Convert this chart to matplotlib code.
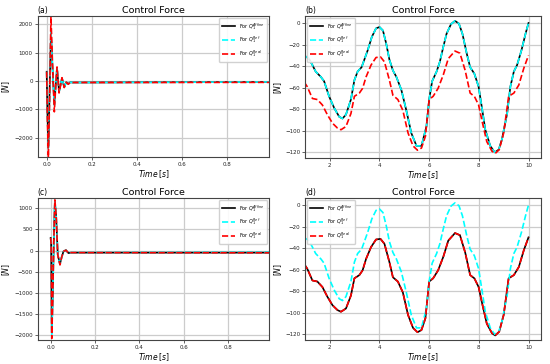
import numpy as np
import matplotlib
matplotlib.use('Agg')
import matplotlib.pyplot as plt

# --- transient data, panels (a) and (c) ---
t_a = [0.0, 0.003, 0.0075, 0.013, 0.019, 0.026, 0.034, 0.040, 0.046, 0.055,
       0.068, 0.078, 0.087, 0.096, 0.105, 0.115, 0.99]
a_affine = [330, -1000, -2350, -400, 1700, 450, -820, -150, 460, -380,
            100, -210, -40, -100, -40, -50, -30]
a_ref = [330, -1000, -2400, -400, 1750, 450, -850, -150, 470, -380,
         100, -210, -40, -100, -40, -50, -30]
a_real = [330, -1300, -2700, -600, 2280, 600, -1085, -200, 500, -420,
          120, -230, -40, -110, -40, -50, -45]

t_c = [0.0, 0.002, 0.005, 0.009, 0.014, 0.019, 0.025, 0.032, 0.042, 0.050,
       0.058, 0.069, 0.080, 0.092, 0.99]
c_affine = [300, 150, -1950, -1150, 200, 1180, 780, -100, -320, -150,
            -20, 10, -60, -50, -50]
c_ref = [300, 150, -2000, -1150, 200, 1190, 790, -100, -330, -150,
         -20, 10, -60, -50, -35]
c_real = [300, 150, -2080, -1200, 200, 1200, 800, -100, -340, -150,
          -20, 10, -60, -50, -50]

# --- steady data, panels (b) and (d) ---
t_ref = [0.96, 1.16, 1.3, 1.43, 1.64, 1.77, 1.97, 2.18, 2.38, 2.51, 2.65, 2.85, 2.99,
         3.12, 3.28, 3.39, 3.53, 3.69, 3.86, 4.0, 4.14, 4.27, 4.4, 4.54, 4.68, 4.88,
         5.08, 5.28, 5.49, 5.69, 5.89, 6.0, 6.12, 6.3, 6.43, 6.57, 6.7, 6.88, 7.04,
         7.2, 7.34, 7.51, 7.65, 7.82, 7.99, 8.12, 8.26, 8.46, 8.64, 8.8, 8.93, 9.14,
         9.27, 9.41, 9.54, 9.72, 9.88, 10.0]
q_ref = [-30, -33, -39, -45, -50, -54, -68, -79, -87, -88.6, -85, -71, -53,
         -45, -41, -34, -25, -13, -5, -3.7, -7, -19, -34, -44, -50, -62,
         -81, -102, -114, -114, -96, -71, -54, -45, -36, -22, -10, -1, 2,
         -0.6, -10, -28, -41, -47, -59, -78, -99, -114, -120, -117.5, -108, -84,
         -59, -45, -39, -25, -10, 0]

t_real = [0.96, 1.09, 1.3, 1.5, 1.7, 1.9, 2.11, 2.31, 2.45, 2.65, 2.85, 2.99, 3.19,
          3.32, 3.46, 3.66, 3.86, 4.04, 4.2, 4.4, 4.54, 4.74, 4.94, 5.15, 5.35, 5.53,
          5.69, 5.85, 6.0, 6.16, 6.36, 6.57, 6.77, 7.04, 7.24, 7.45, 7.65, 7.82, 7.99,
          8.15, 8.32, 8.53, 8.66, 8.82, 9.0, 9.2, 9.41, 9.61, 9.81, 10.0]
q_real = [-54.5, -59, -70, -71, -76, -85, -93, -97.5, -99, -96, -84, -68, -65,
          -60.6, -50, -39, -32, -31.4, -36, -53, -67, -71, -81, -102, -114, -118,
          -116, -105, -71, -68, -60.6, -48, -33, -26, -28, -44, -65, -68, -76,
          -93, -110, -119, -121, -117.5, -102, -68, -65, -57.5, -42, -30]

labels = [r'For $Q_1^{Affine}$', r'For $Q_1^{Ref}$', r'For $Q_1^{Real}$']

fig = plt.figure(figsize=(5.5, 3.64), dpi=100)
pos = {'a': [0.0685, 0.569, 0.421, 0.387],
       'b': [0.5545, 0.566, 0.429, 0.390],
       'c': [0.0685, 0.066, 0.421, 0.390],
       'd': [0.5545, 0.066, 0.429, 0.390]}
LW = 1.2


def style(ax, tag, loc, ylab_x):
    ax.set_title('Control Force', fontsize=6.8, pad=2.5)
    ax.set_title('(' + tag + ')', loc='left', fontsize=5.5, pad=2.5)
    ax.set_xlabel(r'$Time\,[s]$', fontsize=5.5, labelpad=1)
    ax.set_ylabel(r'$[N]$', fontsize=5.5)
    ax.yaxis.set_label_coords(ylab_x, 0.5)
    ax.tick_params(labelsize=4, length=2, width=0.5, pad=1.5, colors='#222222')
    ax.grid(True, color='#cccccc', linewidth=0.9)
    for s in ax.spines.values():
        s.set_linewidth(0.8)
        s.set_color('#444444')
    ax.legend(loc=loc, fontsize=3.5, handlelength=2.8, borderpad=0.5,
              labelspacing=0.6, framealpha=0.9, edgecolor='#cccccc')


# (a)
ax = fig.add_axes(pos['a'])
ax.plot(t_a, a_affine, color='black', lw=LW, label=labels[0])
ax.plot(t_a, a_ref, color='cyan', lw=LW, ls='--', label=labels[1])
ax.plot(t_a, a_real, color='red', lw=LW, ls='--', label=labels[2])
ax.set_xlim(-0.04, 0.989)
ax.set_ylim(-2675, 2297)
ax.set_yticks([-2000, -1000, 0, 1000, 2000])
ax.set_xticks([0.0, 0.2, 0.4, 0.6, 0.8])
style(ax, 'a', 'upper right', -0.11)

# (b)
ax = fig.add_axes(pos['b'])
ax.plot(t_ref, q_ref, color='black', lw=LW, label=labels[0])
ax.plot(t_ref, q_ref, color='cyan', lw=LW, ls='--', label=labels[1])
ax.plot(t_real, q_real, color='red', lw=LW, ls='--', label=labels[2])
ax.set_xlim(1, 10.5)
ax.set_ylim(-125.2, 6.5)
ax.set_xticks([2, 4, 6, 8, 10])
style(ax, 'b', 'upper left', -0.09)

# (c)
ax = fig.add_axes(pos['c'])
ax.plot(t_c, c_affine, color='black', lw=LW, label=labels[0])
ax.plot(t_c, c_ref, color='cyan', lw=LW, ls='--', label=labels[1])
ax.plot(t_c, c_real, color='red', lw=LW, ls='--', label=labels[2])
ax.set_xlim(-0.0587, 0.987)
ax.set_ylim(-2118, 1244)
ax.set_xticks([0.0, 0.2, 0.4, 0.6, 0.8])
style(ax, 'c', 'upper right', -0.11)

# (d)
ax = fig.add_axes(pos['d'])
ax.plot(t_real, q_real, color='black', lw=LW, label=labels[0])
ax.plot(t_ref, q_ref, color='cyan', lw=LW, ls='--', label=labels[1])
ax.plot(t_real, q_real, color='red', lw=LW, ls='--', label=labels[2])
ax.set_xlim(1, 10.5)
ax.set_ylim(-125.2, 6.5)
ax.set_xticks([2, 4, 6, 8, 10])
style(ax, 'd', 'upper left', -0.09)

fig.savefig('out.png', dpi=100)
